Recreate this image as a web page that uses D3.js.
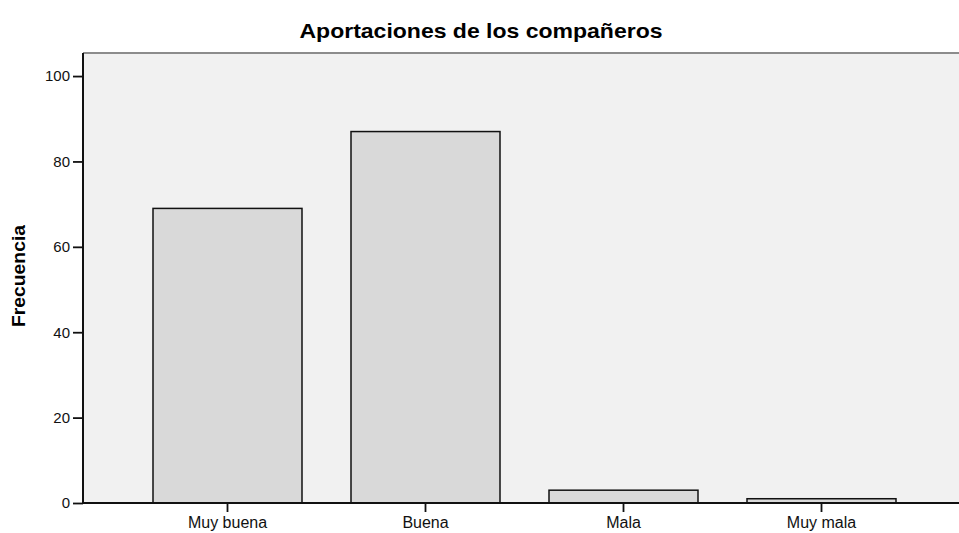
<!DOCTYPE html>
<html>
<head>
<meta charset="utf-8">
<script src="https://cdn.jsdelivr.net/npm/d3@7"></script>
<style>
  body { margin: 0; background: #fff; }
  svg { display: block; }
</style>
</head>
<body>
<script>
// Aportaciones de los companeros - frequency bar chart
var categories = ["Muy buena", "Buena", "Mala", "Muy mala"];
var frecuencias = [69, 87, 3, 1];
var yTicks = [0, 20, 40, 60, 80, 100];

var width = 959, height = 533;
var plotLeft = 83, plotTop = 53, plotBottom = 503, plotRight = 965;

var svg = d3.select("body").append("svg")
    .attr("width", width)
    .attr("height", height);

var y = d3.scaleLinear().domain([0, 105.4]).range([plotBottom, plotTop]);
var x = d3.scaleBand().domain(categories)
    .range([128.5, 920.5])
    .paddingInner(0.2475)
    .paddingOuter(0.12375);

// plot background
svg.append("rect")
  .attr("x", plotLeft).attr("y", plotTop)
  .attr("width", plotRight - plotLeft).attr("height", plotBottom - plotTop)
  .attr("fill", "#f1f1f1");
svg.append("line")
  .attr("x1", plotLeft).attr("x2", plotRight)
  .attr("y1", plotTop).attr("y2", plotTop)
  .attr("stroke", "#8c8c8c").attr("stroke-width", 2);

// bars
svg.append("g").selectAll("rect")
  .data(frecuencias)
  .enter()
  .append("rect")
  .attr("x", function(d, i) { return x(categories[i]); })
  .attr("y", function(d) { return y(d); })
  .attr("width", x.bandwidth())
  .attr("height", function(d) { return plotBottom - y(d); })
  .attr("fill", "#d9d9d9")
  .attr("stroke", "#111")
  .attr("stroke-width", 1.5);

// axes
var yAxis = svg.append("g")
  .attr("transform", "translate(" + plotLeft + ",0)")
  .call(d3.axisLeft(y).tickValues(yTicks).tickSize(10).tickPadding(3));
var xAxis = svg.append("g")
  .attr("transform", "translate(0," + plotBottom + ")")
  .call(d3.axisBottom(x).tickSize(9).tickPadding(5));

svg.selectAll(".domain").remove();
svg.selectAll(".tick line").attr("stroke", "#111").attr("stroke-width", 1.8);
svg.selectAll(".tick text")
  .attr("fill", "#111")
  .style("font-family", "Liberation Sans, Arial, sans-serif");
yAxis.selectAll(".tick text").style("font-size", "15px");
xAxis.selectAll(".tick text").style("font-size", "16px");

svg.append("line")
  .attr("x1", plotLeft).attr("x2", plotLeft)
  .attr("y1", plotTop).attr("y2", plotBottom)
  .attr("stroke", "#111").attr("stroke-width", 2);
svg.append("line")
  .attr("x1", plotLeft).attr("x2", plotRight)
  .attr("y1", plotBottom).attr("y2", plotBottom)
  .attr("stroke", "#111").attr("stroke-width", 2);

// title and axis label
svg.append("text")
  .attr("x", 481).attr("y", 38)
  .attr("text-anchor", "middle")
  .style("font-family", "Liberation Sans, Arial, sans-serif")
  .style("font-weight", "bold")
  .style("font-size", "21px")
  .attr("textLength", 363)
  .attr("lengthAdjust", "spacingAndGlyphs")
  .text("Aportaciones de los compañeros");

svg.append("text")
  .attr("transform", "translate(25,276) rotate(-90)")
  .attr("text-anchor", "middle")
  .style("font-family", "Liberation Sans, Arial, sans-serif")
  .style("font-weight", "bold")
  .style("font-size", "19px")
  .attr("textLength", 102)
  .attr("lengthAdjust", "spacingAndGlyphs")
  .text("Frecuencia");
</script>
</body>
</html>
